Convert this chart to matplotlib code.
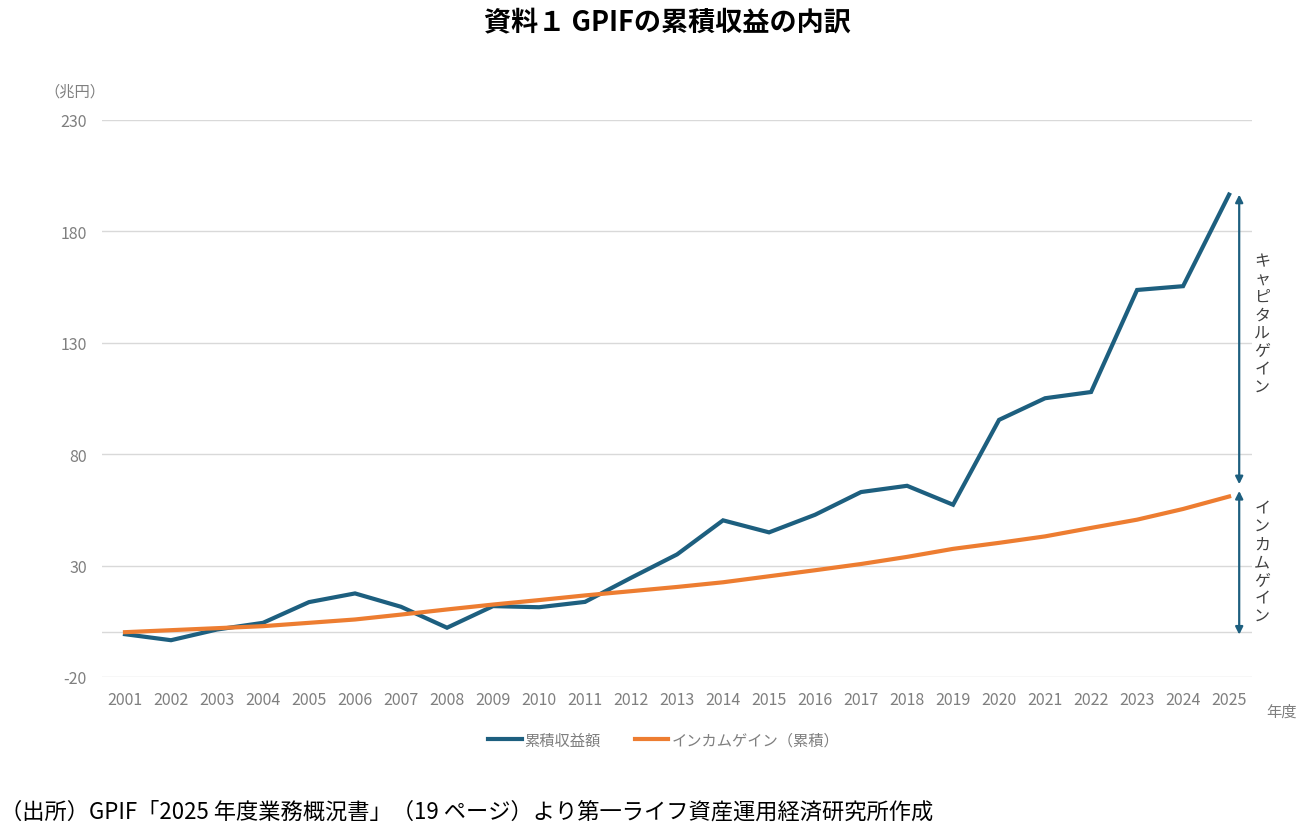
import numpy as np
from matplotlib import pyplot as plt

plt.rcParams['font.family'] = ['Noto Sans CJK JP', 'DejaVu Sans']
plt.rcParams['axes.unicode_minus'] = False

years = [str(y) for y in range(2001, 2026)]
cum_return = [-0.8, -3.5, 1.3, 4.3, 13.6, 17.5, 11.5, 2.1, 11.8, 11.3, 13.7, 24.5,
              35.0, 50.3, 44.9, 52.8, 63.0, 65.8, 57.3, 95.4, 105.1, 107.9, 153.7,
              155.4, 196.5]
income_cum = [0.1, 1.0, 1.9, 2.8, 4.3, 5.8, 8.0, 10.3, 12.5, 14.5, 16.6, 18.5, 20.4,
              22.5, 25.2, 27.9, 30.7, 33.9, 37.5, 40.2, 43.1, 46.9, 50.6, 55.4, 61.0]
yticks = [-20, 30, 80, 130, 180, 230]

blue = '#1d5f7f'
orange = '#ed7d31'
gray = '#7f7f7f'

fig = plt.figure(figsize=(13.01, 8.28), dpi=100)
ax = fig.add_axes([0.0784, 0.1812, 0.884, 0.6727])

x = np.arange(len(years))
ax.plot(x, cum_return, color=blue, lw=3, label='累積収益額', solid_joinstyle='miter')
ax.plot(x, income_cum, color=orange, lw=3, label='インカムゲイン（累積）')

ax.set_xlim(-0.5, len(years) - 0.5)
ax.set_ylim(-20, 230)
ax.set_yticks(yticks)
ax.set_xticks(x)
ax.set_xticklabels(years)
for v in yticks + [0]:
    ax.axhline(v, color='#d9d9d9', lw=1, zorder=0)
for s in ax.spines.values():
    s.set_visible(False)
ax.tick_params(length=0, colors=gray, labelsize=11.5)
ax.tick_params(axis='y', pad=11)
ax.tick_params(axis='x', pad=10)

# 矢印と縦書きの注記
xa = len(years) - 1 + 0.22
ax.annotate('', xy=(xa, cum_return[-1]), xytext=(xa, income_cum[-1] + 5.5),
            arrowprops=dict(arrowstyle='<|-|>', color=blue, lw=1.6, mutation_scale=11,
                            shrinkA=0, shrinkB=0))
ax.annotate('', xy=(xa, income_cum[-1] + 2.5), xytext=(xa, -1),
            arrowprops=dict(arrowstyle='<|-|>', color=blue, lw=1.6, mutation_scale=11,
                            shrinkA=0, shrinkB=0))
xt = len(years) - 1 + 0.72
ax.text(xt, 138.5, '\n'.join('キャピタルゲイン'),
        ha='center', va='center', fontsize=11.5, color='#404040', linespacing=1.08)
ax.text(xt, income_cum[-1] / 2 + 1, '\n'.join('インカムゲイン'),
        ha='center', va='center', fontsize=11.5, color='#404040', linespacing=1.08)

fig.text(0.034, 0.889, '（兆円）', fontsize=11, color=gray, ha='left', va='center')
fig.text(0.985, 0.14, '年度', fontsize=11, color=gray, ha='center', va='center')

fig.text(0.513, 0.973, '資料１ GPIFの累積収益の内訳', fontsize=19.5, fontweight='bold',
         ha='center', va='center')

ax.legend(loc='center', bbox_to_anchor=(0.51, 0.105), bbox_transform=fig.transFigure,
          ncol=2, frameon=False, fontsize=11, labelcolor=gray, handlelength=2.2,
          handletextpad=0.2, columnspacing=2.2)

fig.text(0.0, 0.019, '（出所）GPIF「2025 年度業務概況書」（19 ページ）より第一ライフ資産運用経済研究所作成',
         fontsize=16, ha='left', va='center')

fig.savefig('out.png', dpi=100)
